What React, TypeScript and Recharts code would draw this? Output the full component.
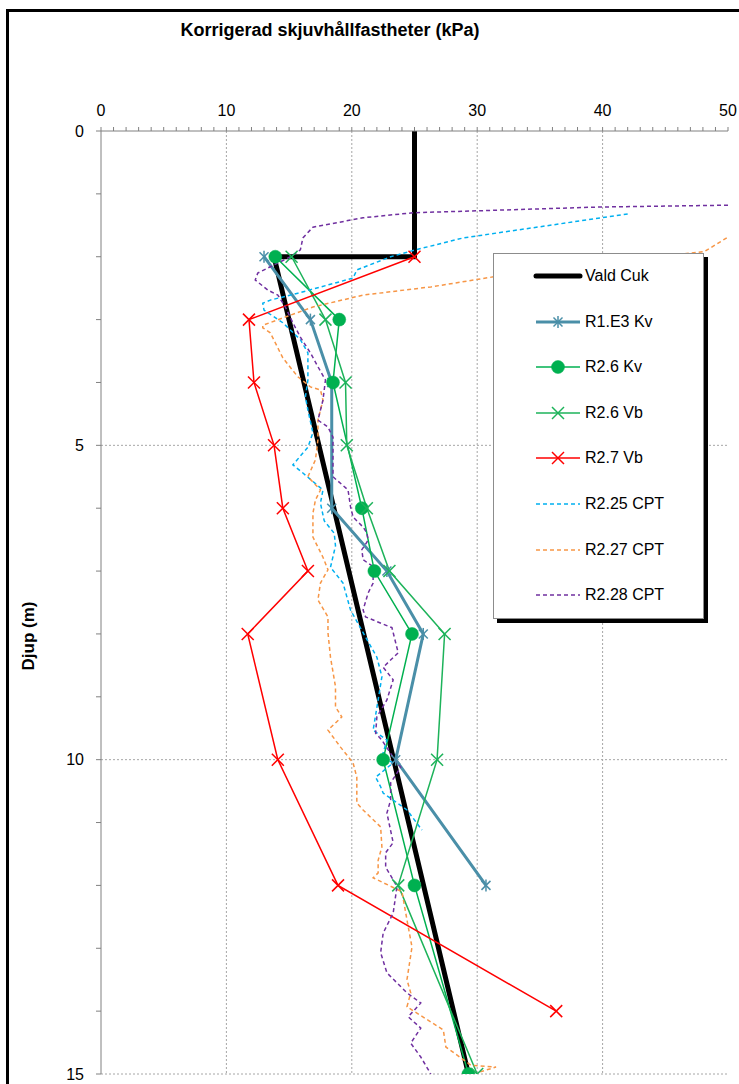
import React from 'react';
import { LineChart, Line, XAxis, YAxis, ReferenceLine, Legend } from 'recharts';

// Each point: [depth (m), corrected undrained shear strength (kPa)]
const valdCuk: [number, number][] = [[0, 25], [2, 25], [2, 13.8], [15, 29.3]];

const r1e3Kv: [number, number][] = [
  [2, 13], [3, 16.7], [4, 18.4], [6, 18.4], [7, 22.8], [8, 25.7], [10, 23.5], [12, 30.7],
];

const r26Kv: [number, number][] = [
  [2, 13.9], [3, 19.0], [4, 18.5], [6, 20.8], [7, 21.8], [8, 24.8], [10, 22.5], [12, 25.0], [15, 29.3],
];

const r26Vb: [number, number][] = [
  [2, 15.2], [3, 17.9], [4, 19.5], [5, 19.6], [6, 21.2], [7, 23.0], [8, 27.4], [10, 26.8], [12, 23.7], [15, 30.0],
];

const r27Vb: [number, number][] = [
  [2, 25], [3, 11.8], [4, 12.2], [5, 13.8], [6, 14.5], [7, 16.5], [8, 11.7], [10, 14.1], [12, 18.9], [14, 36.3],
];

const cpt225: [number, number][] = [
  [1.32, 42.0], [1.7, 28.9], [1.89, 25.1], [2.0, 23.1], [2.21, 20.4], [2.34, 20.1], [2.58, 15.7],
  [2.69, 13.5], [2.74, 12.9], [2.85, 13.0], [3.05, 14.5], [3.32, 15.9], [3.53, 16.5], [3.96, 16.5],
  [4.23, 16.3], [4.44, 16.5], [4.8, 16.9], [5.03, 16.5], [5.31, 15.3], [5.44, 16.1], [5.71, 17.7],
  [5.92, 17.5], [6.2, 17.8], [6.4, 18.6], [6.6, 18.7], [6.94, 18.3], [7.19, 19.3], [7.62, 19.9],
  [7.98, 20.9], [8.37, 22.0], [8.68, 22.4], [9.05, 22.1], [9.53, 21.7], [9.69, 22.8], [9.96, 22.4],
  [10.05, 23.3], [10.28, 21.9], [10.43, 22.3], [10.53, 22.5], [10.8, 24.4], [11.12, 25.6],
];

const cpt227: [number, number][] = [
  [1.7, 49.9], [1.92, 48.1], [2.05, 42.0], [2.2, 36.0], [2.32, 31.3], [2.48, 26.3], [2.61, 20.9],
  [2.8, 16.9], [3.09, 12.9], [3.13, 12.9], [3.21, 13.5], [3.61, 14.5], [3.91, 15.7], [4.07, 16.7],
  [4.12, 17.5], [4.28, 17.7], [4.6, 17.3], [4.91, 17.3], [5.23, 17.1], [5.5, 16.5], [5.71, 17.5],
  [5.87, 17.1], [6.08, 16.9], [6.3, 16.9], [6.46, 16.9], [6.78, 17.7], [6.98, 18.1], [7.19, 17.5],
  [7.46, 17.3], [7.73, 18.1], [7.98, 18.1], [8.37, 18.3], [8.84, 18.7], [9.16, 18.7], [9.32, 19.2],
  [9.53, 18.1], [9.8, 19.1], [10.05, 20.1], [10.28, 20.4], [10.69, 20.4], [10.8, 20.9], [11.07, 22.3],
  [11.39, 22.4], [11.6, 22.1], [11.8, 22.1], [11.88, 21.7], [12.1, 24.0], [12.55, 24.4], [12.98, 24.8],
  [13.5, 24.4], [13.71, 24.7], [13.93, 24.4], [14.3, 27.3], [14.57, 27.5], [14.86, 29.5], [14.89, 31.5],
  [14.98, 30.0],
];

const cpt228: [number, number][] = [
  [1.18, 50.0], [1.21, 39.6], [1.26, 31.6], [1.3, 24.9], [1.38, 20.9], [1.53, 16.9], [1.7, 16.1],
  [1.89, 15.9], [2.0, 15.1], [2.08, 14.3], [2.26, 12.5], [2.37, 12.3], [2.53, 13.3], [2.61, 14.1],
  [2.8, 14.7], [3.05, 15.3], [3.28, 15.9], [3.53, 16.7], [3.75, 17.3], [3.96, 17.9], [4.28, 17.7],
  [4.6, 17.3], [4.71, 18.1], [4.87, 18.5], [5.12, 18.5], [5.28, 18.5], [5.5, 18.5], [5.71, 19.7],
  [5.98, 19.9], [6.14, 20.1], [6.3, 20.9], [6.39, 21.2], [6.51, 21.3], [6.66, 20.8], [6.82, 20.9],
  [6.93, 21.7], [7.19, 21.7], [7.35, 21.3], [7.62, 20.9], [7.73, 21.1], [7.9, 23.2], [8.3, 23.7],
  [8.53, 22.5], [8.73, 23.3], [9.05, 22.8], [9.32, 22.0], [9.58, 21.9], [9.69, 22.4], [9.96, 23.3],
  [10.12, 23.9], [10.37, 23.1], [10.64, 23.1], [10.85, 22.8], [11.32, 23.3], [11.48, 22.7],
  [11.71, 22.7], [11.91, 23.3], [12.02, 23.6], [12.44, 23.3], [12.76, 22.5], [13.07, 22.3],
  [13.39, 22.8], [13.71, 24.4], [13.87, 25.5], [14.09, 24.5], [14.27, 25.5], [14.51, 24.7],
  [14.73, 25.5], [15.0, 26.3],
];

const xTicks = [
  0, 1, 2, 3, 4, 5, 6, 7, 8, 9, 10, 11, 12, 13, 14, 15, 16, 17, 18, 19, 20, 21, 22, 23, 24, 25,
  26, 27, 28, 29, 30, 31, 32, 33, 34, 35, 36, 37, 38, 39, 40, 41, 42, 43, 44, 45, 46, 47, 48, 49, 50,
];
const xLabelTicks = [0, 10, 20, 30, 40, 50];
const xGrid = [10, 20, 30, 40];
const yTicks = [0, 1, 2, 3, 4, 5, 6, 7, 8, 9, 10, 11, 12, 13, 14, 15];
const yLabelTicks = [0, 5, 10, 15];
const yGrid = [5, 10, 15];

const TITLE = 'Korrigerad skjuvhållfastheter (kPa)';
const Y_TITLE = 'Djup (m)';

type MarkerKind = 'none' | 'star' | 'circle' | 'x';
interface SeriesDef {
  name: string;
  pts: [number, number][];
  color: string;
  width: number;
  dash?: string;
  marker: MarkerKind;
}

const series: SeriesDef[] = [
  { name: 'Vald Cuk', pts: valdCuk, color: '#000000', width: 5, marker: 'none' },
  { name: 'R1.E3 Kv', pts: r1e3Kv, color: '#4A8FA8', width: 3, marker: 'star' },
  { name: 'R2.6 Kv', pts: r26Kv, color: '#00B050', width: 1.5, marker: 'circle' },
  { name: 'R2.6 Vb', pts: r26Vb, color: '#1DB35A', width: 1.5, marker: 'x' },
  { name: 'R2.7 Vb', pts: r27Vb, color: '#FF0000', width: 1.5, marker: 'x' },
  { name: 'R2.25 CPT', pts: cpt225, color: '#00B0F0', width: 1.5, dash: '4 3', marker: 'none' },
  { name: 'R2.27 CPT', pts: cpt227, color: '#F79646', width: 1.5, dash: '4 3', marker: 'none' },
  { name: 'R2.28 CPT', pts: cpt228, color: '#7030A0', width: 1.5, dash: '4 3', marker: 'none' },
];

const drawOrder = [0, 1, 2, 3, 4, 5, 6, 7];

const FONT = '"Liberation Sans", Arial, Helvetica, sans-serif';

const toRows = (pts: [number, number][]) => pts.map(([d, v]) => ({ d, v }));

function markerShape(kind: MarkerKind, color: string, cx: number, cy: number, key?: React.Key) {
  if (kind === 'circle') {
    return <circle key={key} cx={cx} cy={cy} r={6.5} fill={color} stroke={color} strokeWidth={0.5} />;
  }
  if (kind === 'x') {
    const s = 6;
    return (
      <g key={key} stroke={color} strokeWidth={1.5}>
        <line x1={cx - s} y1={cy - s} x2={cx + s} y2={cy + s} />
        <line x1={cx - s} y1={cy + s} x2={cx + s} y2={cy - s} />
      </g>
    );
  }
  if (kind === 'star') {
    const s = 4.5;
    return (
      <g key={key} stroke={color} strokeWidth={1.5}>
        <line x1={cx - s} y1={cy - s} x2={cx + s} y2={cy + s} />
        <line x1={cx - s} y1={cy + s} x2={cx + s} y2={cy - s} />
        <line x1={cx} y1={cy - 6} x2={cx} y2={cy + 6} />
      </g>
    );
  }
  return <g key={key} />;
}

const makeDot = (kind: MarkerKind, color: string) => (props: any) => {
  const { cx, cy, index } = props;
  if (kind === 'none' || cx == null || cy == null) return <g key={`d-${index}`} />;
  return markerShape(kind, color, cx, cy, `d-${index}`);
};

function LegendBox() {
  const rowGap = 45.6;
  return (
    <div
      style={{
        position: 'relative',
        width: 211,
        height: 366,
        boxSizing: 'border-box',
        background: '#fff',
        border: '1px solid #8c8c8c',
        boxShadow: '4px 4px 0 0 #000',
        fontFamily: FONT,
      }}
    >
      {series.map((s, i) => (
        <div
          key={s.name}
          style={{
            position: 'absolute',
            left: 0,
            top: 22 + i * rowGap - 11,
            height: 22,
            display: 'flex',
            alignItems: 'center',
          }}
        >
          <svg width={90} height={22} style={{ display: 'block' }}>
            <line
              x1={42}
              y1={11}
              x2={86}
              y2={11}
              stroke={s.color}
              strokeWidth={s.width}
              strokeDasharray={s.dash}
              strokeLinecap={s.width > 3 ? 'round' : 'butt'}
            />
            {markerShape(s.marker, s.color, 64, 11)}
          </svg>
          <span style={{ fontSize: 16, color: '#000', marginLeft: 1, whiteSpace: 'nowrap' }}>{s.name}</span>
        </div>
      ))}
    </div>
  );
}

export default function App() {
  return (
    <div style={{ position: 'absolute', left: 0, top: 0, width: 739, height: 1084, overflow: 'hidden', background: '#fff' }}>
      <div
        style={{
          position: 'absolute',
          left: 6,
          top: 9,
          width: 900,
          height: 1200,
          borderLeft: '3px solid #000',
          borderTop: '3px solid #000',
        }}
      />
      <div style={{ position: 'absolute', left: 0, top: 0 }}>
        <LineChart width={739} height={1084} margin={{ top: 101, right: 11, bottom: 10, left: 41 }}>
          <XAxis
            type="number"
            dataKey="v"
            orientation="top"
            domain={[0, 50]}
            allowDataOverflow
            ticks={xTicks}
            interval={0}
            tickFormatter={(v: number) => (xLabelTicks.includes(v) ? String(v) : '')}
            height={30}
            tickSize={4}
            tickMargin={11}
            axisLine={{ stroke: '#808080' }}
            tickLine={{ stroke: '#808080' }}
            tick={{ fontSize: 16, fill: '#000', fontFamily: FONT }}
          />
          <XAxis
            xAxisId="minor"
            type="number"
            orientation="top"
            mirror
            domain={[0, 50]}
            allowDataOverflow
            ticks={xTicks}
            interval={0}
            tickFormatter={() => ''}
            tickSize={3}
            axisLine={false}
            tickLine={{ stroke: '#808080' }}
          />
          <YAxis
            type="number"
            domain={[0, 15]}
            reversed
            allowDataOverflow
            ticks={yTicks}
            interval={0}
            tickFormatter={(v: number) => (yLabelTicks.includes(v) ? String(v) : '')}
            width={60}
            tickSize={5}
            tickMargin={12}
            axisLine={{ stroke: '#808080' }}
            tickLine={{ stroke: '#808080' }}
            tick={{ fontSize: 16, fill: '#000', fontFamily: FONT }}
          />
          {xGrid.map((g) => (
            <ReferenceLine key={`xg${g}`} x={g} stroke="#a6a6a6" strokeDasharray="2 2" strokeWidth={1} />
          ))}
          {yGrid.map((g) => (
            <ReferenceLine key={`yg${g}`} y={g} stroke="#a6a6a6" strokeDasharray="2 2" strokeWidth={1} />
          ))}
          {drawOrder.map((i) => {
            const s = series[i];
            return (
              <Line
                key={s.name}
                name={s.name}
                data={toRows(s.pts)}
                dataKey="d"
                type="linear"
                stroke={s.color}
                strokeWidth={s.width}
                strokeDasharray={s.dash}
                dot={makeDot(s.marker, s.color)}
                activeDot={false}
                isAnimationActive={false}
              />
            );
          })}
          <Legend
            layout="horizontal"
            verticalAlign="middle"
            align="center"
            wrapperStyle={{ left: 493, top: 253, width: 211, height: 366 }}
            content={() => <LegendBox />}
          />
          <text x={330} y={36} textAnchor="middle" fontSize={18} fontWeight="bold" fontFamily={FONT} fill="#000">
            {TITLE}
          </text>
          <text
            transform="translate(34,636) rotate(-90)"
            textAnchor="middle"
            fontSize={17}
            fontWeight="bold"
            fontFamily={FONT}
            fill="#000"
          >
            {Y_TITLE}
          </text>
        </LineChart>
      </div>
    </div>
  );
}
